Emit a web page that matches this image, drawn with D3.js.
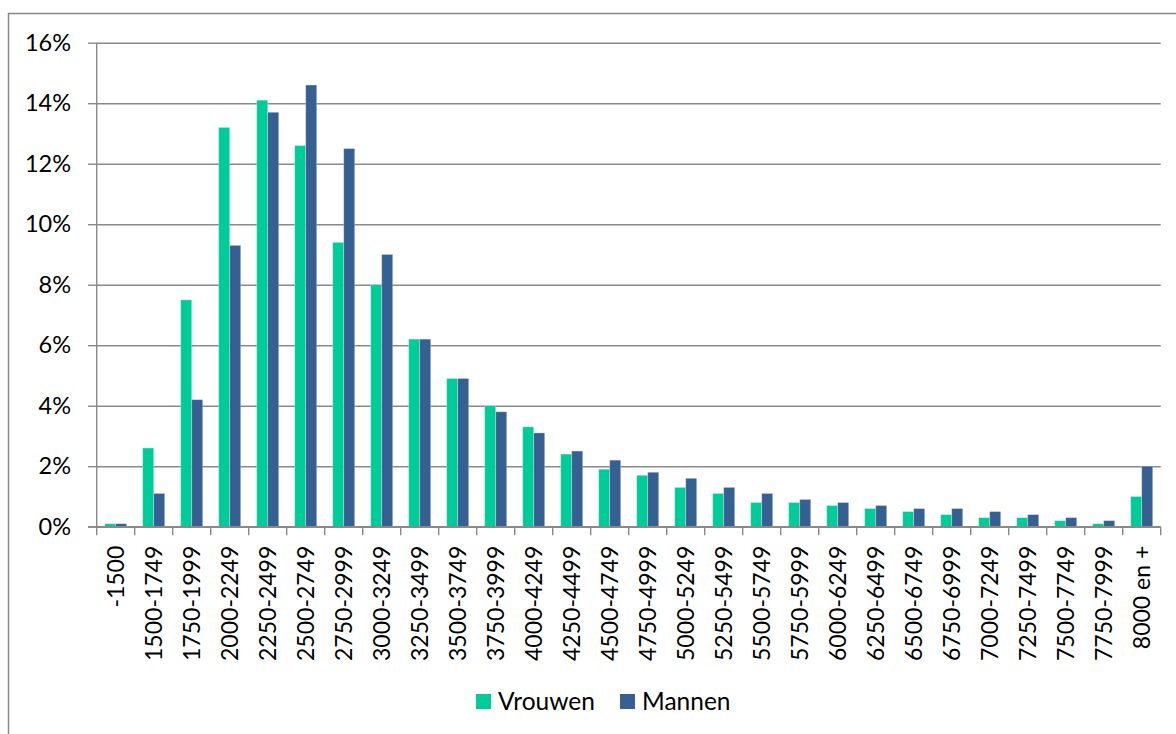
<!DOCTYPE html>
<html>
<head>
<meta charset="utf-8">
<script src="https://cdn.jsdelivr.net/npm/d3@7"></script>
<style>
  html, body { margin: 0; padding: 0; background: #fff; }
  svg { display: block; font-family: Lato, "Open Sans", sans-serif; }
</style>
</head>
<body>
<div id="chart"></div>
<script>
'use strict';

var categories = ["-1500", "1500-1749", "1750-1999", "2000-2249", "2250-2499", "2500-2749",
  "2750-2999", "3000-3249", "3250-3499", "3500-3749", "3750-3999", "4000-4249", "4250-4499",
  "4500-4749", "4750-4999", "5000-5249", "5250-5499", "5500-5749", "5750-5999", "6000-6249",
  "6250-6499", "6500-6749", "6750-6999", "7000-7249", "7250-7499", "7500-7749", "7750-7999",
  "8000 en +"];

// percentages
var vrouwen = [0.1, 2.6, 7.5, 13.2, 14.1, 12.6, 9.4, 8.0, 6.2, 4.9, 4.0, 3.3, 2.4,
  1.9, 1.7, 1.3, 1.1, 0.8, 0.8, 0.7, 0.6, 0.5, 0.4, 0.3, 0.3, 0.2, 0.1, 1.0];
var mannen = [0.1, 1.1, 4.2, 9.3, 13.7, 14.6, 12.5, 9.0, 6.2, 4.9, 3.8, 3.1, 2.5,
  2.2, 1.8, 1.6, 1.3, 1.1, 0.9, 0.8, 0.7, 0.6, 0.6, 0.5, 0.4, 0.3, 0.2, 2.0];

var seriesNames = ["Vrouwen", "Mannen"];
var yTicks = [0, 2, 4, 6, 8, 10, 12, 14, 16];

var colors = {Vrouwen: "#00CC99", Mannen: "#366092"};
var gridColor = "#898989";

var width = 1176, height = 734,
    margin = ({top: 42.7, right: 15.3, bottom: 207.3, left: 96.7});

var data = categories.map((c, i) => ({cat: c, Vrouwen: vrouwen[i], Mannen: mannen[i]}));

var svg = d3.select("#chart").append("svg")
    .attr("width", width)
    .attr("height", height);

// outer frame (runs off right and bottom like the source image)
svg.append("rect")
    .attr("x", 8.5).attr("y", 13.5)
    .attr("width", 1300).attr("height", 900)
    .attr("fill", "none")
    .attr("stroke", gridColor)
    .attr("stroke-width", 1.5);

var x = d3.scaleBand()
    .domain(categories)
    .range([margin.left, width - margin.right])
    .paddingInner(0.42)
    .paddingOuter(0.21);

var x1 = d3.scaleBand()
    .domain(seriesNames)
    .range([0, x.bandwidth()]);

var y = d3.scaleLinear()
    .domain([0, 16])
    .range([height - margin.bottom, margin.top]);

// horizontal gridlines + y labels
var yAxis = g => g
    .attr("transform", `translate(${margin.left},0)`)
    .call(d3.axisLeft(y).tickValues(yTicks).tickSize(8.7).tickPadding(17).tickFormat(d => d + "%"))
    .call(g => g.select(".domain").remove())
    .call(g => g.selectAll(".tick line").clone()
        .attr("x2", width - margin.right - margin.left))
    .call(g => g.selectAll(".tick line")
        .attr("stroke", gridColor).attr("stroke-width", 1.4))
    .call(g => g.selectAll(".tick text")
        .attr("font-size", "23.5px").attr("fill", "#000").attr("font-family", "Lato, sans-serif"));

svg.append("g").call(yAxis);

// vertical axis line
svg.append("line")
    .attr("x1", margin.left).attr("x2", margin.left)
    .attr("y1", y(16)).attr("y2", y(0))
    .attr("stroke", gridColor).attr("stroke-width", 1.4);

// bars
var groups = svg.append("g")
  .selectAll("g")
  .data(data)
  .join("g")
    .attr("transform", d => `translate(${x(d.cat)},0)`);

groups.selectAll("rect")
  .data(d => seriesNames.map(k => ({key: k, value: d[k]})))
  .join("rect")
    .attr("x", d => x1(d.key))
    .attr("y", d => y(d.value))
    .attr("width", x1.bandwidth())
    .attr("height", d => y(0) - y(d.value))
    .attr("fill", d => colors[d.key])
    .attr("stroke", "rgba(255,255,255,0.35)")
    .attr("stroke-width", 0.8);

// x axis with category ticks between groups
var step = x.step();
var xAxis = g => g
    .attr("transform", `translate(0,${y(0)})`)
    .call(g => g.append("line")
        .attr("x1", margin.left - 8.7).attr("x2", width - margin.right)
        .attr("stroke", gridColor).attr("stroke-width", 1.4))
    .call(g => g.selectAll(".ctick")
        .data(d3.range(categories.length + 1))
        .join("line")
        .attr("class", "ctick")
        .attr("x1", i => margin.left + i * step)
        .attr("x2", i => margin.left + i * step)
        .attr("y1", 0).attr("y2", 8.5)
        .attr("stroke", gridColor).attr("stroke-width", 1.4))
    .call(g => g.selectAll(".clabel")
        .data(categories)
        .join("text")
        .attr("class", "clabel")
        .attr("transform", d => `translate(${x(d) + x.bandwidth() / 2},19) rotate(-90)`)
        .attr("text-anchor", "end")
        .attr("dy", "0.36em")
        .attr("font-size", "23px")
        .attr("fill", "#000")
        .text(d => d));

svg.append("g").call(xAxis);

// legend
var legend = svg.append("g")
  .selectAll("g")
  .data(seriesNames)
  .join("g")
    .attr("transform", (d, i) => `translate(${476 + i * 144},694)`);

legend.append("rect")
    .attr("width", 15).attr("height", 15)
    .attr("fill", d => colors[d]);

legend.append("text")
    .attr("x", 22).attr("y", 15.5)
    .attr("font-size", "24.5px")
    .attr("fill", "#000")
    .text(d => d);
</script>
</body>
</html>
